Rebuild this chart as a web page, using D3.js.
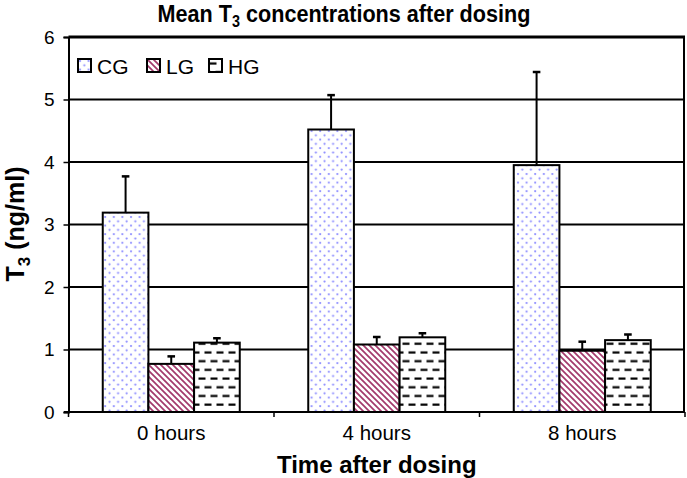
<!DOCTYPE html>
<html>
<head>
<meta charset="utf-8">
<script src="https://cdn.jsdelivr.net/npm/d3@7"></script>
<style>
html,body{margin:0;padding:0;background:#fff;}
svg{display:block;font-family:"Liberation Sans",Arial,sans-serif;}
</style>
</head>
<body>
<svg id="chart" width="687" height="478"></svg>
<script>
const categories = ["0 hours", "4 hours", "8 hours"];
const seriesNames = ["CG", "LG", "HG"];
const meanCG = [3.19, 4.52, 3.95];
const meanLG = [0.77, 1.08, 0.98];
const meanHG = [1.11, 1.195, 1.15];
const errCG = [0.58, 0.55, 1.49];
const errLG = [0.12, 0.12, 0.145];
const errHG = [0.07, 0.065, 0.09];
const yTicks = [0, 1, 2, 3, 4, 5, 6];

const means = [meanCG, meanLG, meanHG];
const errs = [errCG, errLG, errHG];

const svg = d3.select("#chart");
const L = 68.5, R = 685, T = 37, B = 412;

const defs = svg.append("defs");
const pCG = defs.append("pattern").attr("id", "pCG").attr("patternUnits", "userSpaceOnUse")
  .attr("width", 8.6).attr("height", 8.6);
pCG.append("rect").attr("width", 8.6).attr("height", 8.6).attr("fill", "#fff");
pCG.append("circle").attr("cx", 2).attr("cy", 2).attr("r", 1.1).attr("fill", "#8a8aff");
pCG.append("circle").attr("cx", 6.3).attr("cy", 6.3).attr("r", 1.1).attr("fill", "#8a8aff");
const pLG = defs.append("pattern").attr("id", "pLG").attr("patternUnits", "userSpaceOnUse")
  .attr("width", 6).attr("height", 6);
pLG.append("rect").attr("width", 6).attr("height", 6).attr("fill", "#fff");
pLG.append("path").attr("d", "M0,0L6,6M-1,5L1,7M5,-1L7,1")
  .attr("stroke", "#a33a6c").attr("stroke-width", 1.7).attr("fill", "none");
const pHG = defs.append("pattern").attr("id", "pHG").attr("patternUnits", "userSpaceOnUse")
  .attr("width", 12).attr("height", 17.4);
pHG.append("rect").attr("width", 12).attr("height", 17.4).attr("fill", "#fff");
pHG.append("path").attr("d", "M0.5,4.5H7.5M6.5,13.2H13.5M-5.5,13.2H1.5")
  .attr("stroke", "#000").attr("stroke-width", 2).attr("fill", "none");
const fills = ["url(#pCG)", "url(#pLG)", "url(#pHG)"];

const y = d3.scaleLinear().domain([0, 6]).range([B, T]);
const x = d3.scaleBand().domain(categories).range([L, R]).padding(0);
const bw = x.bandwidth();
const xs = d3.scaleBand().domain(seriesNames).range([bw / 6, bw * 5 / 6]).padding(0);

svg.append("g").selectAll("line").data(yTicks.filter(d => d > 0)).join("line")
  .attr("x1", L).attr("x2", R).attr("y1", d => y(d)).attr("y2", d => y(d))
  .attr("stroke", "#000").attr("stroke-width", d => d === 6 ? 3 : 2);
svg.append("line").attr("x1", R - 1).attr("x2", R - 1).attr("y1", y(6)).attr("y2", B)
  .attr("stroke", "#000").attr("stroke-width", 2);

const yAxis = d3.axisLeft(y).tickValues(yTicks).tickSize(5).tickPadding(9).tickFormat(d3.format("d"));
const gy = svg.append("g").attr("transform", `translate(${L},0)`).call(yAxis);
gy.select(".domain").attr("stroke", "#000").attr("stroke-width", 2);
gy.selectAll(".tick line").attr("stroke", "#000").attr("stroke-width", 1.5);
gy.selectAll(".tick text").attr("font-size", 19).attr("fill", "#000")
  .attr("font-family", "Liberation Sans, Arial, sans-serif");

const groups = svg.append("g").selectAll("g").data(seriesNames).join("g");
groups.each(function (s, si) {
  const g = d3.select(this);
  const data = categories.map((c, ci) => ({ c, v: means[si][ci], e: errs[si][ci] }));
  g.selectAll("rect").data(data).join("rect")
    .attr("x", d => x(d.c) + xs(s))
    .attr("y", d => y(d.v))
    .attr("width", xs.bandwidth())
    .attr("height", d => B - y(d.v))
    .attr("fill", fills[si]).attr("stroke", "#000").attr("stroke-width", 2);
  const cx = d => x(d.c) + xs(s) + xs.bandwidth() / 2;
  g.selectAll("line.err").data(data).join("line").attr("class", "err")
    .attr("x1", cx).attr("x2", cx).attr("y1", d => y(d.v)).attr("y2", d => y(d.v + d.e))
    .attr("stroke", "#000").attr("stroke-width", 2);
  g.selectAll("line.cap").data(data).join("line").attr("class", "cap")
    .attr("x1", d => cx(d) - 3.8).attr("x2", d => cx(d) + 3.8)
    .attr("y1", d => y(d.v + d.e)).attr("y2", d => y(d.v + d.e))
    .attr("stroke", "#000").attr("stroke-width", 2.5);
});

svg.append("line").attr("x1", L - 4.5).attr("x2", R).attr("y1", B).attr("y2", B)
  .attr("stroke", "#000").attr("stroke-width", 2);
const bounds = categories.map(c => x(c)).concat([R]);
svg.append("g").selectAll("line").data(bounds).join("line")
  .attr("x1", d => d).attr("x2", d => d).attr("y1", B).attr("y2", B + 5)
  .attr("stroke", "#000").attr("stroke-width", 1.5);
svg.append("g").selectAll("text").data(categories).join("text")
  .attr("x", d => x(d) + bw / 2).attr("y", 440)
  .attr("text-anchor", "middle").attr("font-size", 20.5).attr("fill", "#000").text(d => d);

const title = svg.append("text").attr("transform", "translate(344,22) scale(0.9,1)").attr("text-anchor", "middle")
  .attr("font-size", 24).attr("font-weight", "bold").attr("fill", "#000");
title.append("tspan").text("Mean T");
title.append("tspan").attr("font-size", 16).attr("dy", 5).text("3");
title.append("tspan").attr("dy", -5).text(" concentrations after dosing");

svg.append("text").attr("x", (L + R) / 2).attr("y", 473).attr("text-anchor", "middle")
  .attr("font-size", 24).attr("font-weight", "bold").attr("fill", "#000").text("Time after dosing");

const yl = svg.append("text").attr("transform", "translate(24,224) rotate(-90)").attr("text-anchor", "middle")
  .attr("font-size", 25).attr("font-weight", "bold").attr("fill", "#000");
yl.append("tspan").text("T");
yl.append("tspan").attr("font-size", 17).attr("dy", 6).text("3");
yl.append("tspan").attr("dy", -6).text(" (ng/ml)");

const legX = [78, 147, 209];
const leg = svg.append("g").selectAll("g").data(seriesNames).join("g")
  .attr("transform", (d, i) => `translate(${legX[i]},59)`);
leg.append("rect").attr("width", 13).attr("height", 13)
  .attr("fill", (d, i) => fills[i]).attr("stroke", "#000").attr("stroke-width", 2);
leg.append("text").attr("x", 19).attr("y", 14.5).attr("font-size", 21).attr("fill", "#000").text(d => d);
</script>
</body>
</html>
